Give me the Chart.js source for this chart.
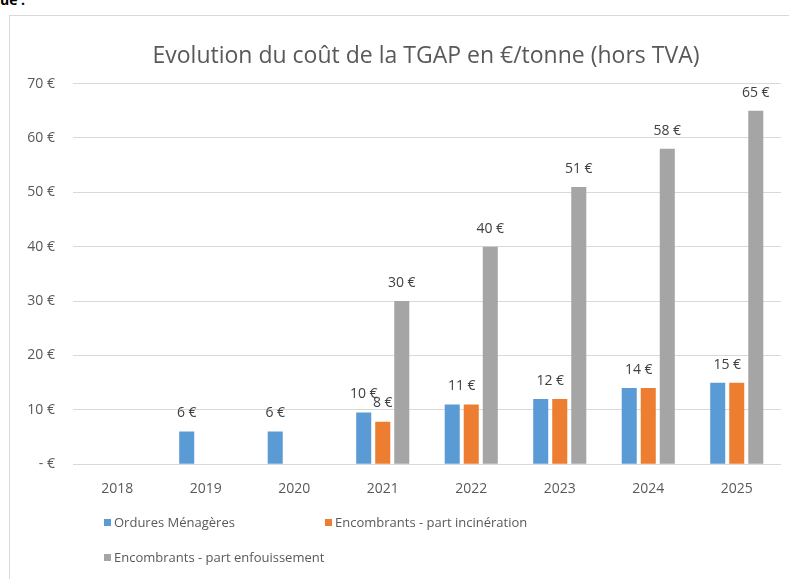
<!DOCTYPE html>
<html>
<head>
<meta charset="utf-8">
<script src="https://cdn.jsdelivr.net/npm/chart.js@4.4.0/dist/chart.umd.min.js"></script>
<style>
    body { margin: 0; background: #fff; font-family: "Open Sans", sans-serif; overflow: hidden; }
    #frag { position: absolute; left: 0; top: -10px; font-size: 14px; font-weight: bold; color: #000; }
    #box { position: absolute; left: 9px; top: 15px; width: 840px; height: 580px; border: 1px solid #d9d9d9; }
    #myChart { position: absolute; left: 0; top: 0; }
    #legend { position: absolute; left: 104px; top: 512px; display: grid; grid-template-columns: 221px 260px; row-gap: 15px; }
    .item { display: flex; align-items: center; font-size: 13px; color: #595959; height: 20px; white-space: nowrap; }
    .item span { display: inline-block; flex-shrink: 0; width: 7px; height: 7px; margin-right: 3px; }
</style>
</head>
<body>
<div id="frag">ue :</div>
<div id="box"><canvas id="myChart" width="832" height="518"></canvas></div>
<div id="legend"></div>
<script>
    const years = ['2018', '2019', '2020', '2021', '2022', '2023', '2024', '2025'];
    const ordures = [null, 6, 6, 9.5, 11, 12, 14, 15];
    const incineration = [null, null, null, 7.8, 11, 12, 14, 15];
    const enfouissement = [null, null, null, 30, 40, 51, 58, 65];
    const yTicks = [0, 10, 20, 30, 40, 50, 60, 70];

    const names = ['Ordures Ménagères', 'Encombrants - part incinération', 'Encombrants - part enfouissement'];
    const colors = ['#5B9BD5', '#ED7D31', '#A5A5A5'];

    function euro(v) {
        return v === 0 ? '- €' : Math.round(v) + ' €';
    }

    // étiquettes au-dessus des barres (une seule quand OM et incinération sont égales)
    const barLabels = {
        id: 'barLabels',
        afterDatasetsDraw(chart) {
            const c = chart.ctx;
            const m0 = chart.getDatasetMeta(0), m1 = chart.getDatasetMeta(1), m2 = chart.getDatasetMeta(2);
            c.save();
            c.font = '14px "Open Sans"';
            c.fillStyle = '#404040';
            c.textAlign = 'center';
            c.textBaseline = 'middle';
            years.forEach(function (y, i) {
                const a = ordures[i], b = incineration[i], g = enfouissement[i];
                if (a != null && b != null && euro(a) === euro(b)) {
                    const x = (m0.data[i].x + m1.data[i].x) / 2;
                    c.fillText(euro(a), x, Math.min(m0.data[i].y, m1.data[i].y) - 18);
                } else {
                    if (a != null) c.fillText(euro(a), m0.data[i].x, m0.data[i].y - 19);
                    if (b != null) c.fillText(euro(b), m1.data[i].x, m1.data[i].y - 19);
                }
                if (g != null) c.fillText(euro(g), m2.data[i].x, m2.data[i].y - 18);
            });
            c.restore();
        }
    };

    const ctx = document.getElementById('myChart');
    let myChart = new Chart(ctx, {
        type: 'bar',
        data: {
            labels: years,
            datasets: [ordures, incineration, enfouissement].map(function (d, k) {
                return {
                    label: names[k],
                    data: d,
                    backgroundColor: colors[k],
                    categoryPercentage: 0.645,
                    barPercentage: 0.79
                };
            })
        },
        options: {
            responsive: false,
            animation: false,
            layout: {padding: {left: 0, right: 0, top: 0, bottom: 21}},
            plugins: {
                legend: {display: false},
                tooltip: {enabled: false},
                title: {
                    display: true,
                    text: 'Evolution du coût de la TGAP en €/tonne (hors TVA)',
                    color: '#595959',
                    font: {family: 'Open Sans', size: 23, weight: 'normal'},
                    padding: {top: 27, bottom: 13}
                }
            },
            scales: {
                x: {
                    grid: {display: false, drawTicks: false},
                    border: {display: false},
                    ticks: {color: '#595959', font: {family: 'Open Sans', size: 14}, padding: 16}
                },
                y: {
                    min: 0,
                    max: 70,
                    afterBuildTicks: function (s) { s.ticks = yTicks.map(function (v) { return {value: v}; }); },
                    afterFit: function (s) { s.width = 63; },
                    grid: {color: '#d9d9d9', drawTicks: false},
                    border: {display: false},
                    ticks: {
                        color: '#595959',
                        font: {family: 'Open Sans', size: 14},
                        padding: 18,
                        callback: function (v) { return euro(v); }
                    }
                },
                // marge droite : le cadre Excel dépasse de la capture
                right: {
                    position: 'right',
                    afterFit: function (s) { s.width = 61; },
                    grid: {display: false, drawTicks: false},
                    border: {display: false},
                    ticks: {display: false}
                }
            }
        },
        plugins: [barLabels]
    });

    const legend = document.getElementById('legend');
    names.forEach(function (n, k) {
        const d = document.createElement('div');
        d.className = 'item';
        d.innerHTML = '<span style="background:' + colors[k] + '"></span>' + n;
        legend.appendChild(d);
    });
</script>
</body>
</html>
